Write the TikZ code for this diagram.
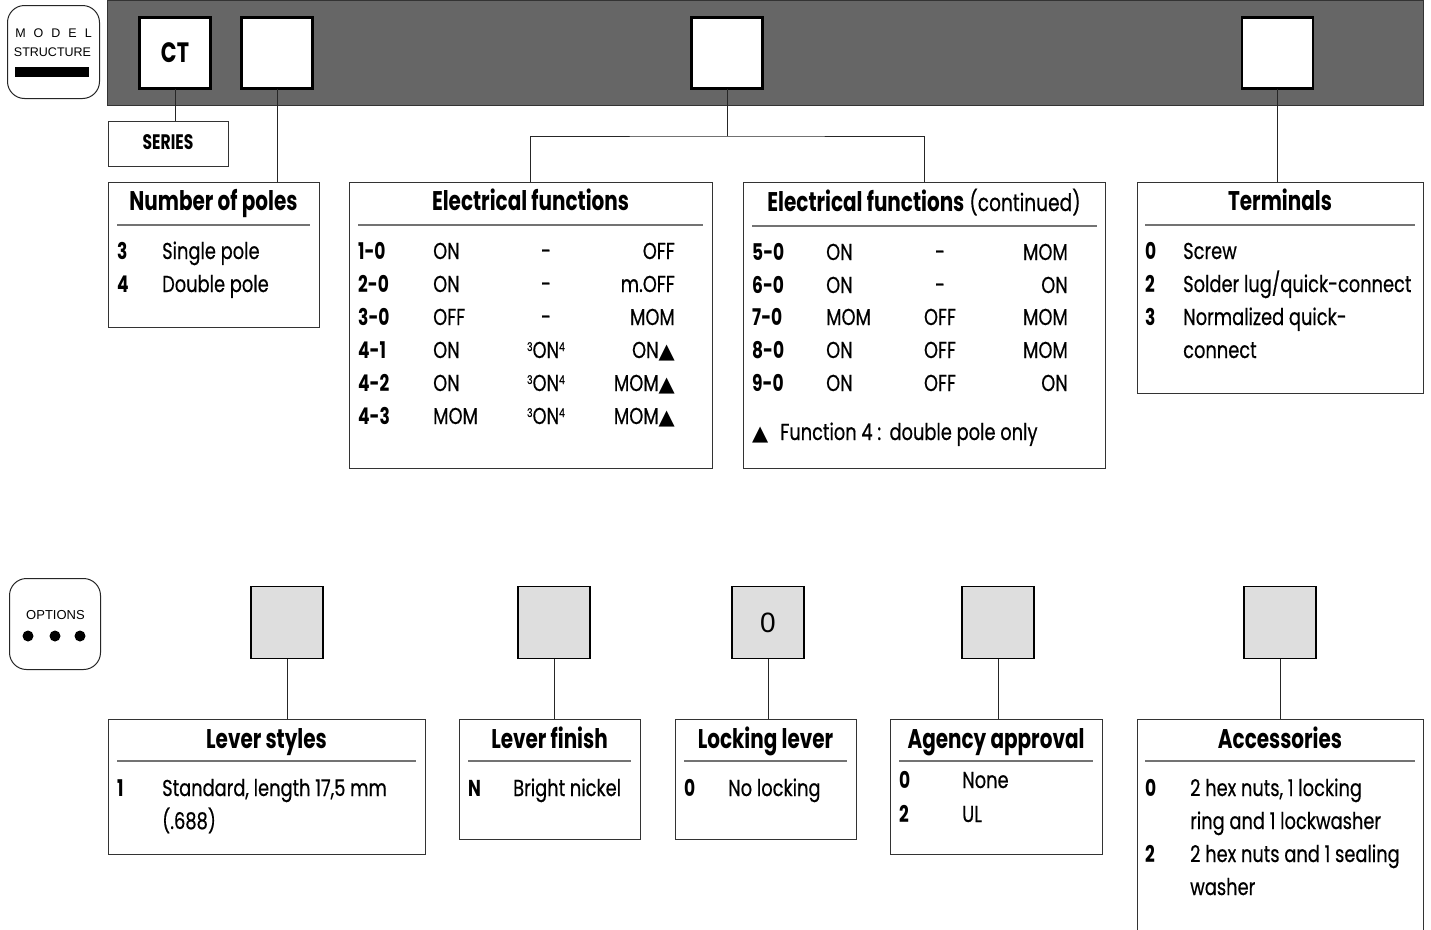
\documentclass[tikz,border=0pt]{standalone}
\usepackage{fontspec}
\setmainfont{Poppins}[FakeStretch=0.74]
\newfontfamily\bodyf{Poppins}[FakeStretch=0.775, FakeBold=0.5]
\newfontfamily\symfont{DejaVu Sans}
\newfontfamily\helv{Liberation Sans}
\newcommand\tri{{\symfont\fontsize{21}{21}\selectfont ▲}}
\newcommand\sm[1]{\raisebox{7pt}{\fontsize{12}{12}\selectfont #1}}
\tikzset{
  frame/.style={draw=black!80, line width=1pt, anchor=north west, inner sep=0, outer sep=0},
  keybox/.style={draw=black, line width=2.6pt, fill=white, minimum size=71pt, inner sep=0, outer sep=0},
  optbox/.style={draw=black, line width=1.4pt, fill=black!13, minimum size=72pt, inner sep=0, outer sep=0},
  link/.style={draw=black!85, line width=1pt},
  sep/.style={draw=black!55, line width=1.3pt},
  icon/.style={draw=black!85, line width=1pt, rounded corners=17pt, anchor=north west, inner sep=0},
  ttl/.style={font=\bfseries\fontsize{27}{27}\selectfont, anchor=base, inner sep=0},
  txt/.style={font=\bodyf\fontsize{23}{23}\selectfont, anchor=base west, inner sep=0},
  txtc/.style={font=\bodyf\fontsize{23}{23}\selectfont, anchor=base, inner sep=0},
  txtr/.style={font=\bodyf\fontsize{23}{23}\selectfont, anchor=base east, inner sep=0},
  cod/.style={font=\bfseries\fontsize{23}{23}\selectfont, anchor=base west, inner sep=0},
}
\begin{document}
\begin{tikzpicture}[x=1pt,y=-1pt]
\clip (0,0) rectangle (1431,929);
\fill[white] (0,0) rectangle (1431,929);

% ---------- model structure icon ----------
\node[icon, minimum width=92pt, minimum height=93pt] (mico) at (7,5) {};
\node[font=\helv\fontsize{12.5}{12.5}\selectfont, inner sep=0] (mtxt1) at (53.5,33) {M\hspace{8pt}O\hspace{8pt}D\hspace{8pt}E\hspace{8pt}L};
\node[font=\helv\fontsize{12.5}{12.5}\selectfont, inner sep=0] (mtxt2) at (52.5,52) {STRUCTURE};
\node[fill=black, minimum width=74pt, minimum height=10pt, inner sep=0] (mbar) at (52,72) {};

% ---------- dark bar ----------
\node[draw=black!80, fill=black!60, line width=1pt, minimum width=1316pt, minimum height=105pt, anchor=north west, inner sep=0] (bar) at (107,0) {};
\node[keybox, font=\bfseries\fontsize{28}{28}\selectfont] (ct) at (175,53) {CT};
\node[keybox] (k2) at (277,53) {};
\node[keybox] (k3) at (727,53) {};
\node[keybox] (k4) at (1277.5,53) {};

% ---------- series ----------
\node[frame, minimum width=120pt, minimum height=45pt] (series) at (108,121) {};
\node[font=\bfseries\fontsize{21}{21}\selectfont, inner sep=0] (seriest) at (168,142) {SERIES};
\draw[link] (ct.south) -- (ct.south |- series.north);

% ---------- number of poles ----------
\node[frame, minimum width=211pt, minimum height=145pt] (poles) at (108,182) {};
\draw[link] (k2.south) -- (k2.south |- poles.north);
\node[ttl] (polest) at (213.5,210) {Number of poles};
\draw[sep] (117,225) -- (310,225);
\node[cod] (p1c) at (117,259) {3};
\node[txt] (p1t) at (162,259) {Single pole};
\node[cod] (p2c) at (117,292) {4};
\node[txt] (p2t) at (162,292) {Double pole};

% ---------- electrical functions ----------
\node[frame, minimum width=363pt, minimum height=286pt] (elec) at (349,182) {};
\node[frame, minimum width=362pt, minimum height=286pt] (elecc) at (743,182) {};
\coordinate (split) at (727,136);
\draw[link] (k3.south) -- (split);
\draw[link] (elec.north) |- (split) -| (elecc.north);

\node[ttl] (elect) at (530.5,210) {Electrical functions};
\draw[sep] (358,225) -- (703,225);
\node[cod] (e1a) at (358,259) {1-0};
\node[txt] (e1b) at (433,259) {ON};
\node[txtc] (e1c) at (546,259) {-};
\node[txtr] (e1d) at (675,259) {OFF};
\node[cod] (e2a) at (358,292) {2-0};
\node[txt] (e2b) at (433,292) {ON};
\node[txtc] (e2c) at (546,292) {-};
\node[txtr] (e2d) at (675,292) {m.OFF};
\node[cod] (e3a) at (358,325) {3-0};
\node[txt] (e3b) at (433,325) {OFF};
\node[txtc] (e3c) at (546,325) {-};
\node[txtr] (e3d) at (675,325) {MOM};
\node[cod] (e4a) at (358,358) {4-1};
\node[txt] (e4b) at (433,358) {ON};
\node[txtc] (e4c) at (546,358) {\sm{3}ON\sm{4}};
\node[txtr] (e4d) at (675,358) {ON\tri};
\node[cod] (e5a) at (358,391) {4-2};
\node[txt] (e5b) at (433,391) {ON};
\node[txtc] (e5c) at (546,391) {\sm{3}ON\sm{4}};
\node[txtr] (e5d) at (675,391) {MOM\tri};
\node[cod] (e6a) at (358,424) {4-3};
\node[txt] (e6b) at (433,424) {MOM};
\node[txtc] (e6c) at (546,424) {\sm{3}ON\sm{4}};
\node[txtr] (e6d) at (675,424) {MOM\tri};

\node[ttl] (elecct) at (924,211) {Electrical functions\bodyf\mdseries\fontsize{24}{24}\selectfont\ (continued)};
\draw[sep] (752,226) -- (1097,226);
\node[cod] (f1a) at (752,260) {5-0};
\node[txt] (f1b) at (826,260) {ON};
\node[txtc] (f1c) at (940,260) {-};
\node[txtr] (f1d) at (1068,260) {MOM};
\node[cod] (f2a) at (752,293) {6-0};
\node[txt] (f2b) at (826,293) {ON};
\node[txtc] (f2c) at (940,293) {-};
\node[txtr] (f2d) at (1068,293) {ON};
\node[cod] (f3a) at (752,325) {7-0};
\node[txt] (f3b) at (826,325) {MOM};
\node[txtc] (f3c) at (940,325) {OFF};
\node[txtr] (f3d) at (1068,325) {MOM};
\node[cod] (f4a) at (752,358) {8-0};
\node[txt] (f4b) at (826,358) {ON};
\node[txtc] (f4c) at (940,358) {OFF};
\node[txtr] (f4d) at (1068,358) {MOM};
\node[cod] (f5a) at (752,391) {9-0};
\node[txt] (f5b) at (826,391) {ON};
\node[txtc] (f5c) at (940,391) {OFF};
\node[txtr] (f5d) at (1068,391) {ON};
\node[txt] (fnote) at (752,440) {\tri\hspace{12pt}Function 4 :\hspace{2pt} double pole only};

% ---------- terminals ----------
\node[frame, minimum width=286pt, minimum height=211pt] (term) at (1137,182) {};
\draw[link] (k4.south) -- (k4.south |- term.north);
\node[ttl] (termt) at (1280,210) {Terminals};
\draw[sep] (1145,225) -- (1415,225);
\node[cod] (t1c) at (1145,259) {0};
\node[txt] (t1t) at (1183,259) {Screw};
\node[cod] (t2c) at (1145,292) {2};
\node[txt] (t2t) at (1183,292) {Solder lug/quick-connect};
\node[cod] (t3c) at (1145,325) {3};
\node[txt] (t3t) at (1183,325) {Normalized quick-};
\node[txt] (t4t) at (1183,358) {connect};

% ---------- options icon ----------
\node[icon, minimum width=91pt, minimum height=91pt] (oico) at (9,578) {};
\node[font=\helv\fontsize{13}{13}\selectfont, inner sep=0] (otxt) at (55.5,615) {OPTIONS};
\node[circle, fill=black, minimum size=11pt, inner sep=0] (od1) at (28,636) {};
\node[circle, fill=black, minimum size=11pt, inner sep=0] (od2) at (55,636) {};
\node[circle, fill=black, minimum size=11pt, inner sep=0] (od3) at (80,636) {};

% ---------- option code boxes ----------
\node[optbox] (o1) at (287,622.5) {};
\node[optbox] (o2) at (554,622.5) {};
\node[optbox, font=\helv\fontsize{28}{28}\selectfont] (o3) at (768,622.5) {0};
\node[optbox] (o4) at (998,622.5) {};
\node[optbox] (o5) at (1280,622.5) {};

% ---------- lever styles ----------
\node[frame, minimum width=317pt, minimum height=135pt] (lev) at (108,719) {};
\draw[link] (o1.south) -- (o1.south |- lev.north);
\node[ttl] (levt) at (266.5,748) {Lever styles};
\draw[sep] (117,761) -- (416,761);
\node[cod] (l1c) at (117,796) {1};
\node[txt] (l1t) at (162,796) {Standard, length 17,5 mm};
\node[txt] (l2t) at (162,829) {(.688)};

% ---------- lever finish ----------
\node[frame, minimum width=181pt, minimum height=120pt] (fin) at (459,719) {};
\draw[link] (o2.south) -- (o2.south |- fin.north);
\node[ttl] (fint) at (549.5,748) {Lever finish};
\draw[sep] (468,761) -- (631,761);
\node[cod] (n1c) at (468,796) {N};
\node[txt] (n1t) at (513,796) {Bright nickel};

% ---------- locking lever ----------
\node[frame, minimum width=181pt, minimum height=120pt] (lock) at (675,719) {};
\draw[link] (o3.south) -- (o3.south |- lock.north);
\node[ttl] (lockt) at (765.5,748) {Locking lever};
\draw[sep] (684,761) -- (847,761);
\node[cod] (k1c) at (684,796) {0};
\node[txt] (k1t) at (728,796) {No locking};

% ---------- agency approval ----------
\node[frame, minimum width=212pt, minimum height=135pt] (agc) at (890,719) {};
\draw[link] (o4.south) -- (o4.south |- agc.north);
\node[ttl] (agct) at (996,748) {Agency approval};
\draw[sep] (899,761) -- (1093,761);
\node[cod] (a1c) at (899,788) {0};
\node[txt] (a1t) at (962,788) {None};
\node[cod] (a2c) at (899,822) {2};
\node[txt] (a2t) at (962,822) {UL};

% ---------- accessories ----------
\node[frame, minimum width=286pt, minimum height=240pt] (acc) at (1137,719) {};
\draw[link] (o5.south) -- (o5.south |- acc.north);
\node[ttl] (acct) at (1280,748) {Accessories};
\draw[sep] (1145,761) -- (1415,761);
\node[cod] (c1c) at (1145,796) {0};
\node[txt] (c1t) at (1190,796) {2 hex nuts, 1 locking};
\node[txt] (c2t) at (1190,829) {ring and 1 lockwasher};
\node[cod] (c3c) at (1145,862) {2};
\node[txt] (c3t) at (1190,862) {2 hex nuts and 1 sealing};
\node[txt] (c4t) at (1190,895) {washer};
\end{tikzpicture}
\end{document}
